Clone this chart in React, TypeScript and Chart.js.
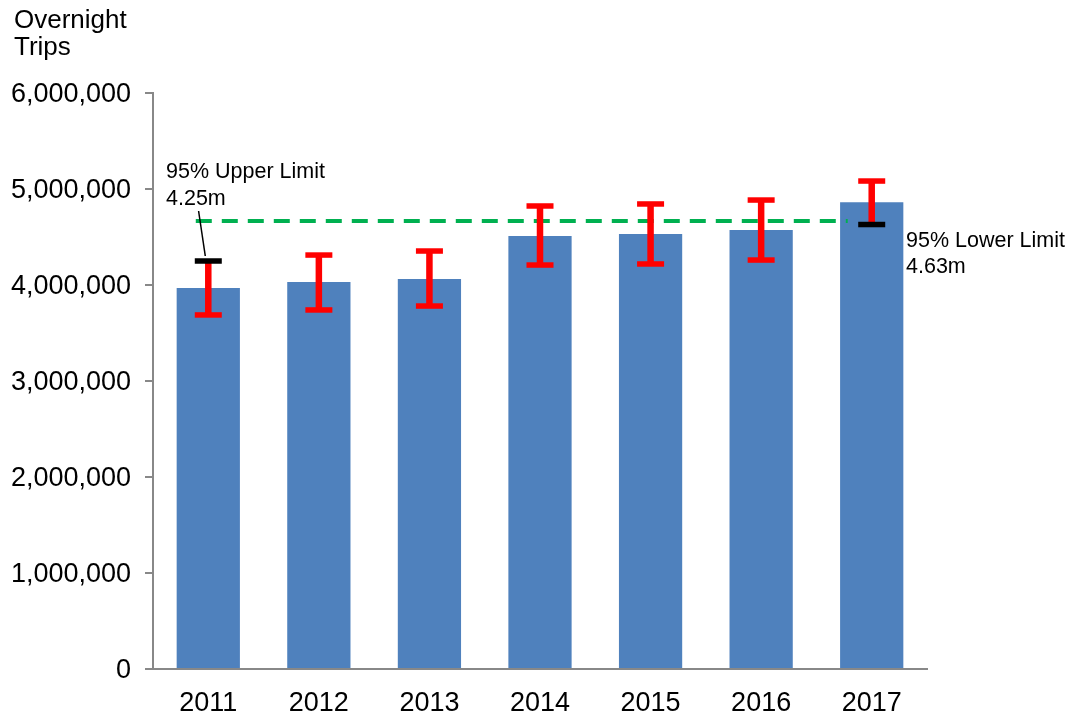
import React, { useEffect, useRef } from "react";
import { Chart, registerables } from "chart.js";

Chart.register(...registerables);

const years = ["2011", "2012", "2013", "2014", "2015", "2016", "2017"];
const trips = [3969000, 4031000, 4062000, 4510000, 4530000, 4573000, 4861000];
const upperBound = [4250000, 4312000, 4354000, 4823000, 4844000, 4885000, 5083000];
const lowerBound = [3688000, 3740000, 3781000, 4208000, 4219000, 4260000, 4630000];
const thresholdValue = 4667000;
const yMin = 0;
const yMax = 6000000;
const yStep = 1000000;
const axisTitle = ["Overnight", "Trips"];
const upperLabel = ["95% Upper Limit", "4.25m"];
const lowerLabel = ["95% Lower Limit", "4.63m"];

const FONT = "'Liberation Sans', Arial, sans-serif";

function fmt(v: number): string {
  return String(Math.round(v)).replace(/\B(?=(\d{3})+(?!\d))/g, ",");
}

const overlayPlugin = {
  id: "overlay",
  afterDatasetsDraw(chart: any) {
    const { ctx, scales } = chart;
    const x = scales.x;
    const y = scales.y;
    ctx.save();

    // green dashed threshold line
    const yT = y.getPixelForValue(thresholdValue);
    ctx.strokeStyle = "#00B050";
    ctx.lineWidth = 4;
    ctx.setLineDash([16, 10]);
    ctx.beginPath();
    ctx.moveTo(x.getPixelForValue(0) - 12.5, yT);
    ctx.lineTo(x.getPixelForValue(years.length - 1) - 24, yT);
    ctx.stroke();
    ctx.setLineDash([]);

    // error bars
    const capW = 27;
    for (let i = 0; i < years.length; i++) {
      const cx = x.getPixelForValue(i);
      const yu = y.getPixelForValue(upperBound[i]);
      const yl = y.getPixelForValue(lowerBound[i]);
      ctx.fillStyle = "#FF0000";
      ctx.fillRect(cx - 3.25, yu, 6.5, yl - yu);
      ctx.fillStyle = i === 0 ? "#000000" : "#FF0000";
      ctx.fillRect(cx - capW / 2, yu - 2.75, capW, 5.5);
      ctx.fillStyle = i === years.length - 1 ? "#000000" : "#FF0000";
      ctx.fillRect(cx - capW / 2, yl - 2.75, capW, 5.5);
    }

    // leader line for upper limit
    const c0 = x.getPixelForValue(0);
    const u0 = y.getPixelForValue(upperBound[0]);
    ctx.strokeStyle = "#000000";
    ctx.lineWidth = 1.5;
    ctx.beginPath();
    ctx.moveTo(c0 - 9.7, u0 - 50);
    ctx.lineTo(c0 - 3, u0 - 5);
    ctx.stroke();

    // annotation texts
    ctx.fillStyle = "#000000";
    ctx.font = `21.5px ${FONT}`;
    ctx.textAlign = "left";
    ctx.textBaseline = "alphabetic";
    ctx.fillText(upperLabel[0], 166, 178);
    ctx.fillText(upperLabel[1], 166, 205);
    ctx.fillText(lowerLabel[0], 906, 247);
    ctx.fillText(lowerLabel[1], 906, 273);

    // axis title
    ctx.font = `26px ${FONT}`;
    ctx.fillText(axisTitle[0], 14, 28);
    ctx.fillText(axisTitle[1], 14, 55);

    ctx.restore();
  },
};

export default function App() {
  const ref = useRef<HTMLCanvasElement | null>(null);

  useEffect(() => {
    if (!ref.current) return;
    const chart = new Chart(ref.current, {
      type: "bar",
      data: {
        labels: years,
        datasets: [
          {
            data: trips,
            backgroundColor: "#4F81BD",
            borderWidth: 0,
            barPercentage: 0.572,
            categoryPercentage: 1,
          },
        ],
      },
      options: {
        responsive: false,
        animation: false,
        devicePixelRatio: 1,
        layout: { padding: { left: 0, right: 141, top: 93, bottom: 0 } },
        plugins: {
          legend: { display: false },
          tooltip: { enabled: false },
          title: { display: false },
        },
        scales: {
          x: {
            grid: { display: false },
            border: { display: true, color: "#888888", width: 2 },
            ticks: {
              color: "#000000",
              font: { family: FONT, size: 27 },
              padding: 10,
              maxRotation: 0,
            },
            afterFit: (scale: any) => {
              scale.height = 47;
            },
          },
          y: {
            min: yMin,
            max: yMax,
            grid: {
              display: true,
              drawOnChartArea: false,
              drawTicks: true,
              tickLength: 8,
              color: "#888888",
              lineWidth: 2,
            },
            border: { display: true, color: "#888888", width: 2 },
            ticks: {
              stepSize: yStep,
              color: "#000000",
              font: { family: FONT, size: 27 },
              padding: 14,
              labelOffset: 2,
              callback: (v: any) => fmt(Number(v)),
            },
            afterFit: (scale: any) => {
              scale.width = 153;
            },
          },
        },
      },
      plugins: [overlayPlugin],
    });
    return () => chart.destroy();
  }, []);

  return (
    <div style={{ position: "fixed", left: 0, top: 0, width: 1068, height: 716, background: "#ffffff" }}>
      <canvas ref={ref} width={1068} height={716} style={{ display: "block" }} />
    </div>
  );
}
